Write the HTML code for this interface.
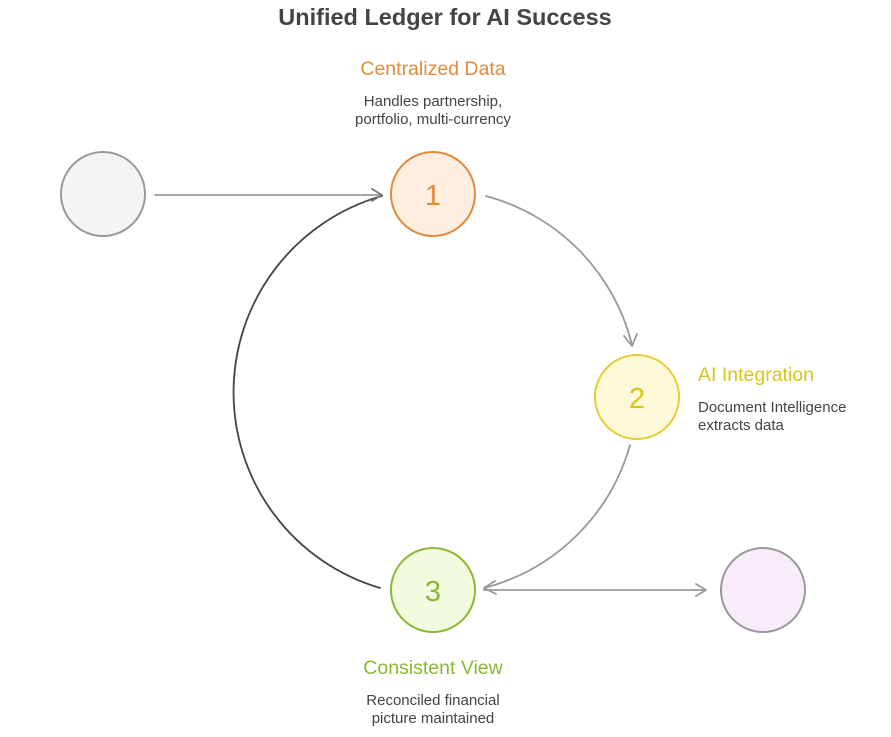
<!DOCTYPE html>
<html><head><meta charset="utf-8"><style>
body{margin:0;background:#fff;}
svg text{font-family:"Liberation Sans",sans-serif;}
</style></head><body>
<svg width="891" height="732" viewBox="0 0 891 732" xmlns="http://www.w3.org/2000/svg">
<text x="445" y="25" text-anchor="middle" font-size="23.5" font-weight="bold" fill="#444">Unified Ledger for AI Success</text>
<text x="433" y="75" text-anchor="middle" font-size="19.5" fill="#e08a3a">Centralized Data</text>
<text x="433" y="106" text-anchor="middle" font-size="15" fill="#444">Handles partnership,</text>
<text x="433" y="124" text-anchor="middle" font-size="15" fill="#444">portfolio, multi-currency</text>
<text x="698" y="381" font-size="19.5" fill="#d9c41a">AI Integration</text>
<text x="698" y="412" font-size="15" fill="#444">Document Intelligence</text>
<text x="698" y="430" font-size="15" fill="#444">extracts data</text>
<text x="433" y="674" text-anchor="middle" font-size="19.5" fill="#8ab830">Consistent View</text>
<text x="433" y="705" text-anchor="middle" font-size="15" fill="#444">Reconciled financial</text>
<text x="433" y="723" text-anchor="middle" font-size="15" fill="#444">picture maintained</text>

<g fill="none" stroke-width="1.8" stroke-linecap="round" stroke-linejoin="round">
<path d="M486 196 A205 205 0 0 1 632 345" stroke="#999"/>
<path d="M624 336 L632 346 L637 334" stroke="#999"/>
<path d="M630 445 A205 205 0 0 1 484 588" stroke="#999"/>
<path d="M495 581 L484 588 L496 594" stroke="#999"/>
<path d="M380 588 A204 204 0 0 1 382 196" stroke="#444"/>
<path d="M155 195 L382 195" stroke="#999"/>
<path d="M372 189 L382 195 L372 201" stroke="#777"/>
<path d="M484 590 L706 590" stroke="#999"/>
<path d="M696 584 L706 590 L696 596" stroke="#999"/>
</g>

<circle cx="103" cy="194" r="42" fill="#f4f4f4" stroke="#999" stroke-width="2"/>
<circle cx="433" cy="194" r="42" fill="#fdeee0" stroke="#e08a3a" stroke-width="2"/>
<text x="433" y="205" text-anchor="middle" font-size="29" fill="#e08a3a">1</text>
<circle cx="637" cy="397" r="42" fill="#fdf9d8" stroke="#e3cf35" stroke-width="2"/>
<text x="637" y="408" text-anchor="middle" font-size="29" fill="#d9c41a">2</text>
<circle cx="433" cy="590" r="42" fill="#f3fbdf" stroke="#8ab830" stroke-width="2"/>
<text x="433" y="601" text-anchor="middle" font-size="29" fill="#8ab830">3</text>
<circle cx="763" cy="590" r="42" fill="#f8ecfb" stroke="#999" stroke-width="2"/>
</svg>
</body></html>
